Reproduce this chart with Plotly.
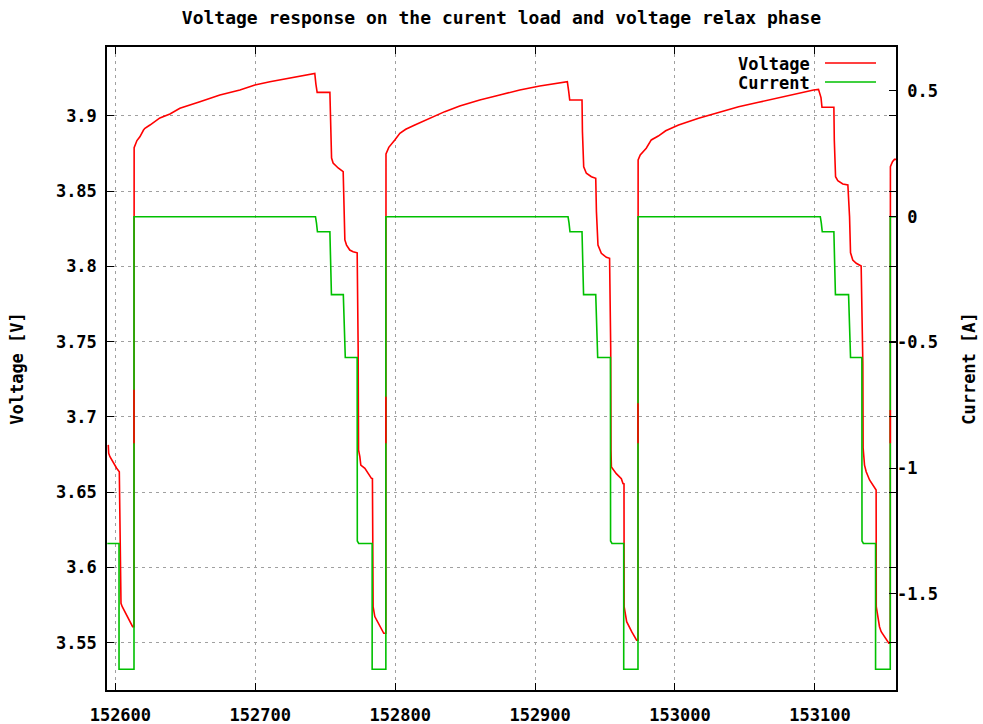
import plotly.graph_objects as go

# ---- measured series -------------------------------------------------------
# Battery voltage [V] sampled over three load/relax cycles
V_T = [
    152595.0, 152595.3, 152596.2, 152598.6, 152601.0, 152602.9,
    152603.6, 152604.1, 152605.0, 152608.1, 152612.4, 152613.4,
    # cycle 1
    152613.5, 152615.5, 152617.6, 152620.2, 152621.2, 152624.8, 152631.9,
    152639.1, 152646.2, 152660.5, 152674.8, 152689.1, 152699.8, 152710.5,
    152724.8, 152741.2, 152742.6, 152743.4, 152744.3, 152753.4, 152753.9,
    152754.6, 152755.7, 152759.3, 152762.9, 152763.6, 152764.1, 152765.3,
    152767.6, 152770.0, 152772.9, 152773.6, 152773.9, 152774.8, 152775.5,
    152778.4, 152781.9, 152783.1, 152783.8, 152783.9, 152784.3, 152785.5,
    152787.9, 152790.3, 152791.9, 152793.4,
    # cycle 2
    152793.5, 152795.5, 152797.6, 152799.8, 152803.4, 152807.6, 152814.1,
    152824.8, 152835.5, 152846.2, 152860.5, 152874.8, 152889.1, 152903.4,
    152917.6, 152923.1, 152924.1, 152924.8, 152933.6, 152933.9, 152934.8,
    152936.7, 152940.3, 152943.4, 152943.9, 152945.0, 152947.4, 152951.0,
    152953.3, 152954.1, 152954.3, 152954.6, 152958.1, 152961.7, 152962.9,
    152963.6, 152963.7, 152965.5, 152969.1, 152972.6, 152973.6,
    # cycle 3
    152973.7, 152975.2, 152979.5, 152983.1, 152988.1, 152993.4, 153002.6,
    153016.9, 153031.2, 153045.5, 153059.8, 153074.1, 153088.4, 153099.1,
    153102.6, 153104.4, 153105.1, 153113.6, 153113.9, 153114.8, 153116.4,
    153120.0, 153123.6, 153124.8, 153125.5, 153127.1, 153129.6, 153133.1,
    153134.3, 153134.5, 153135.5, 153136.7, 153139.1, 153142.6, 153143.8,
    153143.9, 153145.5, 153146.2, 153147.4, 153149.8, 153152.9, 153153.9,
    # cycle 4 (start)
    153154.0, 153155.5, 153156.9, 153158.0,
]
V_V = [
    3.6814, 3.6758, 3.6736, 3.6692, 3.6659, 3.6636,
    3.5762, 3.5762, 3.5740, 3.5684, 3.5607, 3.5607,
    # cycle 1
    3.8788, 3.8835, 3.8860, 3.8905, 3.8916, 3.8938, 3.8985,
    3.9011, 3.9049, 3.9093, 3.9137, 3.9171, 3.9204, 3.9226,
    3.9248, 3.9277, 3.9280, 3.9210, 3.9155, 3.9155, 3.8952,
    3.8719, 3.8686, 3.8653, 3.8628, 3.8420, 3.8175, 3.8141,
    3.8108, 3.8097, 3.8090, 3.7456, 3.6780, 3.6736, 3.6680,
    3.6659, 3.6603, 3.6592, 3.6590, 3.5740, 3.5740, 3.5674,
    3.5630, 3.5597, 3.5563, 3.5563,
    # cycle 2
    3.8746, 3.8790, 3.8817, 3.8839, 3.8883, 3.8910, 3.8938,
    3.8983, 3.9027, 3.9064, 3.9104, 3.9137, 3.9171, 3.9197,
    3.9215, 3.9226, 3.9160, 3.9104, 3.9104, 3.8894, 3.8661,
    3.8618, 3.8595, 3.8584, 3.8363, 3.8141, 3.8086, 3.8060,
    3.8053, 3.7456, 3.6780, 3.6667, 3.6623, 3.6590, 3.6557,
    3.6555, 3.5740, 3.5640, 3.5574, 3.5518, 3.5518,
    # cycle 3
    3.8706, 3.8740, 3.8784, 3.8839, 3.8865, 3.8900, 3.8938,
    3.8983, 3.9020, 3.9060, 3.9089, 3.9120, 3.9149, 3.9171,
    3.9175, 3.9120, 3.9056, 3.9056, 3.8839, 3.8595, 3.8568,
    3.8547, 3.8540, 3.8330, 3.8090, 3.8042, 3.8020, 3.8002,
    3.7356, 3.6795, 3.6680, 3.6636, 3.6581, 3.6536, 3.6514,
    3.5740, 3.5640, 3.5607, 3.5574, 3.5540, 3.5497, 3.5497,
    # cycle 4 (start)
    3.8661, 3.8695, 3.8710, 3.8710,
]

# Short voltage samples logged while the load is switched off
RISE_T = [152613.4, 152793.4, 152973.6, 153153.9]
FLASH_LO = [3.6825, 3.6825, 3.6825, 3.6825]
FLASH_HI = [3.7180, 3.7134, 3.7090, 3.7046]

# Load current [A]
C_T = [
    152594.3, 152602.7, 152602.7, 152613.4, 152613.4,
    152743.1, 152743.8, 152744.5, 152753.4, 152753.8, 152754.5,
    152763.0, 152763.6, 152764.4, 152772.9, 152773.0, 152774.0,
    152783.6, 152783.6, 152793.4, 152793.4,
    152923.6, 152924.3, 152925.0, 152933.6, 152934.0, 152934.7,
    152943.4, 152944.0, 152944.8, 152953.9, 152954.0, 152955.0,
    152963.4, 152963.4, 152973.6, 152973.6,
    153103.9, 153104.6, 153105.3, 153113.6, 153114.0, 153114.7,
    153124.1, 153124.7, 153125.5, 153133.6, 153133.7, 153134.7,
    153143.4, 153143.4, 153153.9, 153153.9, 153158.0,
]
C_A = [
    -1.30, -1.30, -1.80, -1.80, 0.00,
    0.00, -0.025, -0.06, -0.06, -0.18, -0.31,
    -0.31, -0.44, -0.56, -0.56, -1.29, -1.30,
    -1.30, -1.80, -1.80, 0.00,
    0.00, -0.025, -0.06, -0.06, -0.18, -0.31,
    -0.31, -0.44, -0.56, -0.56, -1.29, -1.30,
    -1.30, -1.80, -1.80, 0.00,
    0.00, -0.025, -0.06, -0.06, -0.18, -0.31,
    -0.31, -0.44, -0.56, -0.56, -1.29, -1.30,
    -1.30, -1.80, -1.80, 0.00, 0.00,
]

X_TICKS = [152600, 152700, 152800, 152900, 153000, 153100]
Y_TICKS = [3.55, 3.6, 3.65, 3.7, 3.75, 3.8, 3.85, 3.9]
Y2_TICKS = [-1.5, -1, -0.5, 0, 0.5]

X_RANGE = [152594.1, 153158.0]
Y_RANGE = [3.51866, 3.94562]
Y2_RANGE = [-1.8827, 0.675]

RED = "#ff0000"
GREEN = "#00c000"
FONT = dict(family="DejaVu Sans Mono", size=17, color="#000000", weight="bold")
TITLE_FONT = dict(FONT, size=18)


def gfmt(v):
    """gnuplot style '% g' label: a blank in place of the sign for v >= 0."""
    s = f"{v:g}"
    return s if s.startswith("-") else "\u00a0" + s


# Put the off-load samples into the voltage series right after each rise time
vt, vv = [], []
rise_idx = 0
for t, v in zip(V_T, V_V):
    while rise_idx < len(RISE_T) and t > RISE_T[rise_idx]:
        vt += [RISE_T[rise_idx], RISE_T[rise_idx]]
        vv += [FLASH_LO[rise_idx], FLASH_HI[rise_idx]]
        rise_idx += 1
    vt.append(t)
    vv.append(v)

flash_x, flash_y = [], []
for t, lo, hi in zip(RISE_T, FLASH_LO, FLASH_HI):
    flash_x += [t, t, None]
    flash_y += [lo, hi, None]

fig = go.Figure()
fig.add_trace(go.Scatter(x=vt, y=vv, mode="lines", name="Voltage",
                         line=dict(color=RED, width=1.6), yaxis="y"))
fig.add_trace(go.Scatter(x=C_T, y=C_A, mode="lines", name="Current",
                         line=dict(color=GREEN, width=1.6), yaxis="y2"))
fig.add_trace(go.Scatter(x=flash_x, y=flash_y, mode="lines", showlegend=False,
                         hoverinfo="skip", line=dict(color=RED, width=1.6),
                         yaxis="y3"))

axis_common = dict(
    ticks="inside", ticklen=7, tickwidth=1, tickcolor="#000000",
    tickfont=FONT, zeroline=False,
)
grid = dict(showgrid=True, gridcolor="#a0a0a0", gridwidth=1, griddash="3px,4px")

fig.update_layout(
    width=983, height=724,
    margin=dict(l=107, r=87, t=47, b=34, autoexpand=False),
    paper_bgcolor="#ffffff", plot_bgcolor="#ffffff",
    showlegend=False,
    title=dict(text="Voltage response on the curent load and voltage relax phase",
               font=TITLE_FONT, x=0.5, xref="paper", xanchor="center",
               y=1 - 18 / 724, yref="container", yanchor="middle"),
    xaxis=dict(range=X_RANGE, tickmode="array", tickvals=X_TICKS,
               ticktext=[gfmt(v) for v in X_TICKS], ticklabelstandoff=9,
               showline=True, linecolor="#000000", linewidth=1.5, mirror="ticks",
               **axis_common, **grid),
    yaxis=dict(range=Y_RANGE, tickmode="array", tickvals=Y_TICKS,
               ticktext=[gfmt(v) for v in Y_TICKS], ticklabelstandoff=5,
               title=dict(text="Voltage [V]", font=FONT, standoff=18),
               showline=True, linecolor="#000000", linewidth=1.5, mirror="ticks",
               **axis_common, **grid),
    yaxis2=dict(range=Y2_RANGE, overlaying="y", side="right", tickmode="array",
                tickvals=Y2_TICKS, ticktext=[gfmt(v) for v in Y2_TICKS],
                title=dict(text="Current [A]", font=FONT, standoff=26),
                showgrid=False, showline=False, **axis_common),
    yaxis3=dict(range=Y_RANGE, overlaying="y", visible=False),
)

# Key in the upper right corner: label first, then a line sample
key_rows = [("Voltage", RED, 64.0), ("Current", GREEN, 83.0)]
for label, color, ypix in key_rows:
    yp = (690 - ypix) / 643
    fig.add_annotation(text=label, xref="paper", yref="paper",
                       x=(812 - 107) / 789, y=yp, xanchor="right",
                       yanchor="middle", showarrow=False, font=FONT)
    fig.add_shape(type="line", xref="paper", yref="paper",
                  x0=(825 - 107) / 789, x1=(876 - 107) / 789,
                  y0=yp + 1 / 643, y1=yp + 1 / 643,
                  line=dict(color=color, width=1.6))

fig.write_html("out.html")
